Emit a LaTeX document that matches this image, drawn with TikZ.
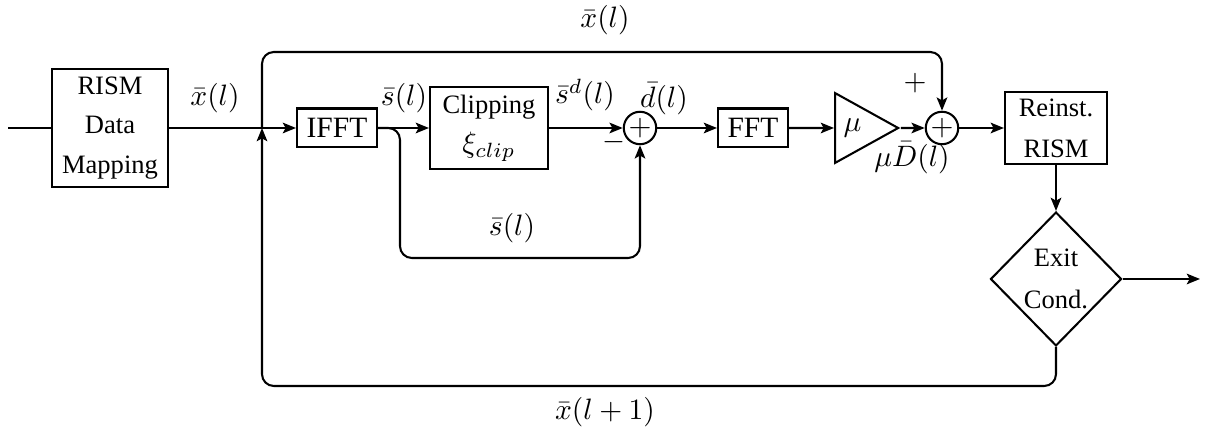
\documentclass[tikz,border=0pt]{standalone}
\usepackage{amsmath}
\usepackage[no-math]{fontspec}
\setmainfont{Liberation Serif}
\usetikzlibrary{positioning,arrows.meta,shapes.geometric}

\begin{document}
\begin{tikzpicture}[
   x=0.339pt, y=-0.339pt,
   line width=0.7pt, >={Stealth[length=4.5pt,width=3.6pt,inset=1pt]},
   box/.style={draw,inner sep=2pt,align=center},
   sumnode/.style={draw,circle,inner sep=0pt,minimum size=11pt},
   gain/.style={draw,isosceles triangle,isosceles triangle stretches,
                shape border rotate=0,minimum width=23.7pt,minimum height=21.4pt,
                inner sep=1pt},
   decision/.style={draw,diamond,aspect=1,minimum width=44.4pt,
                    minimum height=45.4pt,inner sep=0pt,align=center},
]
\useasboundingbox (0,0) rectangle (1208,432);

% blocks
\node[box,font=\small,minimum width=39.3pt,minimum height=40.3pt]
        (map) at (110,128) {RISM\\[2.5pt]Data\\[2.5pt]Mapping};
\node[box,minimum width=27.1pt,minimum height=13.2pt] (ifft) at (337,128) {IFFT};
\node[box,minimum width=40pt,minimum height=27.5pt] (clip) at (489,128)
        {{\small Clipping}\\[1.5pt]$\xi_{clip}$};
\node[sumnode] (sum1) at (640,128) {$+$};
\node[box,minimum width=23.7pt,minimum height=13.2pt] (fft) at (753,128) {FFT};
\node[gain,anchor=west] (amp) at (834,128) {$\mu$};
\node[sumnode] (sum2) at (942,128) {$+$};
\node[box,font=\small,minimum width=34.6pt,minimum height=24.7pt]
        (reinst) at (1056,128) {Reinst.\\[3pt]RISM};
\node[decision,font=\small] (exit) at (1056,279) {Exit\\[3pt]Cond.};

\coordinate (in) at (8,128);
\coordinate (out) at (1200,279);
\coordinate (j) at (262,128);
\coordinate (tl) at (262,52);
\coordinate (bl) at (262,386);
\coordinate (br) at (400,128);
\coordinate (bb) at (400,258);

% forward path
\draw (in) -- (map);
\draw[->] (map) -- (ifft);
\draw[->] (ifft) -- (clip);
\draw[->] (clip) -- (sum1);
\draw[->] (sum1) -- (fft);
\draw[->] (fft) -- (amp);
\draw[->] (amp) -- (sum2);
\draw[->] (sum2) -- (reinst);
\draw[->] (reinst) -- (exit);
\draw[->] (exit) -- (out);

% bypass and loops
\draw[->,rounded corners=4pt] (ifft.east) -- (br) -- (bb) -| (sum1.south);
\draw[->,rounded corners=4pt] (j) -- (tl) -| (sum2.north);
\draw[->,rounded corners=4pt] (exit.south) |- (bl) -- (j);

% labels
\node (xin)  at (215,98)  {$\bar{x}(l)$};
\node (xtop) at (605,20)  {$\bar{x}(l)$};
\node (sl)   at (404,98)  {$\bar{s}(l)$};
\node (sdl)  at (585,95)  {$\bar{s}^{d}(l)$};
\node (minus) at (614,142) {$-$};
\node (dl)   at (664,99)  {$\bar{d}(l)$};
\node (slb)  at (512,228) {$\bar{s}(l)$};
\node (plus) at (915,83)  {$+$};
\node (muD)  at (912,158) {$\mu\bar{D}(l)$};
\node (xbot) at (605,412) {$\bar{x}(l+1)$};

\end{tikzpicture}
\end{document}
